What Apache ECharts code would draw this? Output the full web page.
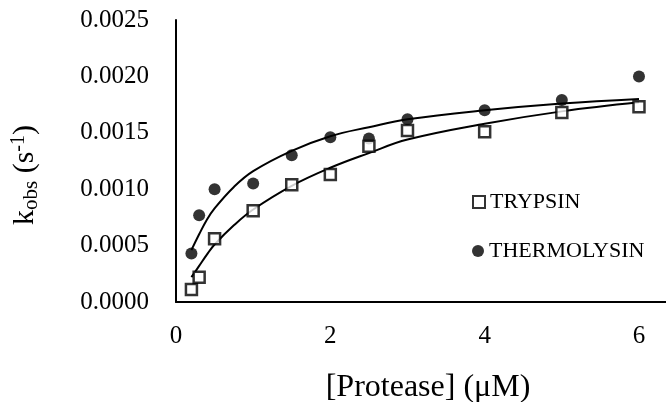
<!DOCTYPE html>
<html>
<head>
<meta charset="utf-8">
<script src="https://cdn.jsdelivr.net/npm/echarts@6/dist/echarts.min.js"></script>
<style>
  html, body { margin: 0; padding: 0; background: #fff; }
  #main { width: 666px; height: 402px; }
</style>
</head>
<body>
<div id="main"></div>
<script>
// measured points
var proteaseX = [0.2, 0.3, 0.5, 1, 1.5, 2, 2.5, 3, 4, 5, 6];
var trypsin = [0.00011, 0.00022, 0.00056, 0.00081, 0.00104, 0.00113, 0.00138, 0.00152, 0.00151, 0.00168, 0.00173];
var thermolysin = [0.00043, 0.00077, 0.00100, 0.00105, 0.00130, 0.00146, 0.00145, 0.00162, 0.00170, 0.00179, 0.00200];

// fitted curves
var fitX = [0.2, 0.3, 0.4, 0.5, 0.75, 1, 1.5, 2, 2.5, 3, 4, 5, 6];
var trypsinFit = [0.00022, 0.00032, 0.00042, 0.00051, 0.00068, 0.00082, 0.00103, 0.00119, 0.00132, 0.00144, 0.00158, 0.00169, 0.00177];
var thermolysinFit = [0.00046, 0.00060, 0.00073, 0.00083, 0.00102, 0.00116, 0.00134, 0.00147, 0.00155, 0.00162, 0.00170, 0.00176, 0.00180];

function pairs(xs, ys) {
    return xs.map(function (x, i) { return [x, ys[i]]; });
}

var font = 'Liberation Serif';
var chart = echarts.init(document.getElementById('main'));

chart.setOption({
    animation: false,
    textStyle: { fontFamily: font, color: '#000' },
    grid: { left: 176, right: 0, top: 20, bottom: 100, outerBoundsMode: 'none' },
    legend: [
        {
            data: ['TRYPSIN'], left: 467, top: 186,
            itemWidth: 12, itemHeight: 12, itemGap: 4,
            textStyle: { fontFamily: font, fontSize: 22, color: '#000' }
        },
        {
            data: ['THERMOLYSIN'], left: 467, top: 235,
            itemWidth: 12, itemHeight: 12, itemGap: 4,
            textStyle: { fontFamily: font, fontSize: 22, color: '#000' }
        }
    ],
    xAxis: {
        type: 'value', min: 0, max: 6.35, interval: 2,
        name: '[Protease] (\u03bcM)', nameLocation: 'middle', nameGap: 70,
        nameTextStyle: { fontFamily: font, fontSize: 32, color: '#000', padding: [0, 0, 0, 14] },
        axisLine: { lineStyle: { color: '#000', width: 2 } },
        axisTick: { show: false },
        splitLine: { show: false },
        axisLabel: {
            margin: 22, fontFamily: font, fontSize: 25, color: '#000',
            showMaxLabel: false
        }
    },
    yAxis: {
        type: 'value', min: 0, max: 0.0025, interval: 0.0005,
        name: 'k{sub|obs} (s{sup|-1})', nameLocation: 'middle', nameGap: 134,
        nameTextStyle: {
            fontFamily: font, fontSize: 30, color: '#000', padding: [0, 28, 0, 0],
            rich: {
                sub: { fontFamily: font, fontSize: 21, color: '#000', verticalAlign: 'bottom', padding: [12, 0, 0, 0] },
                sup: { fontFamily: font, fontSize: 20, color: '#000', verticalAlign: 'top', padding: [0, 0, 10, 0] }
            }
        },
        axisLine: { show: true, lineStyle: { color: '#000', width: 2 } },
        axisTick: { show: false },
        splitLine: { show: false },
        axisLabel: {
            margin: 27, fontFamily: font, fontSize: 25, color: '#000',
            formatter: function (v) { return v.toFixed(4); }
        }
    },
    series: [
        {
            name: 'trypsin fit', type: 'line', smooth: 0.4, symbol: 'none',
            data: pairs(fitX, trypsinFit),
            lineStyle: { color: '#000', width: 2 }, z: 1
        },
        {
            name: 'thermolysin fit', type: 'line', smooth: 0.4, symbol: 'none',
            data: pairs(fitX, thermolysinFit),
            lineStyle: { color: '#000', width: 2 }, z: 1
        },
        {
            name: 'TRYPSIN', type: 'scatter', symbol: 'rect', symbolSize: 11,
            data: pairs(proteaseX, trypsin),
            itemStyle: { color: '#fff', borderColor: '#000', borderWidth: 2.5 }, z: 3
        },
        {
            name: 'THERMOLYSIN', type: 'scatter', symbol: 'circle', symbolSize: 12,
            data: pairs(proteaseX, thermolysin),
            itemStyle: { color: '#000' }, z: 2
        }
    ]
});
</script>
</body>
</html>
